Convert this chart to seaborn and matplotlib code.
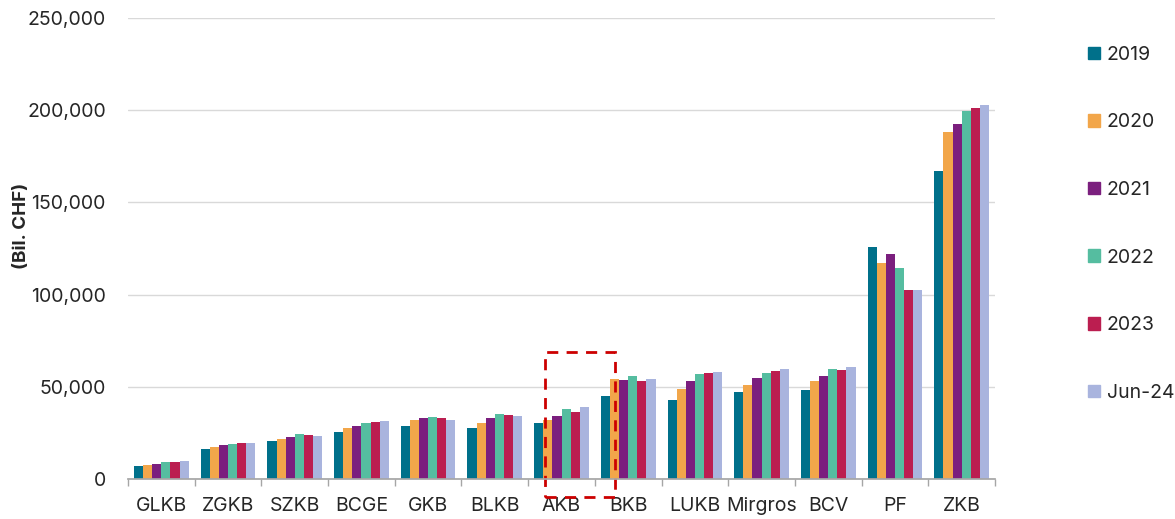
import numpy as np
import pandas as pd
import matplotlib
matplotlib.use("Agg")
import matplotlib.pyplot as plt
import matplotlib.patches as mpatches
import seaborn as sns

banks = ["GLKB", "ZGKB", "SZKB", "BCGE", "GKB", "BLKB", "AKB", "BKB",
         "LUKB", "Mirgros", "BCV", "PF", "ZKB"]
periods = ["2019", "2020", "2021", "2022", "2023", "Jun-24"]

v2019 = [7200, 16100, 20600, 25500, 28900, 27700, 30500, 44900, 42700, 47300, 48500, 125600, 167200]
v2020 = [7600, 17400, 21900, 27800, 31800, 30200, 31900, 54500, 48900, 50900, 53400, 117300, 188400]
v2021 = [8100, 18600, 22600, 28700, 33100, 33100, 34400, 53600, 52900, 54700, 56100, 121800, 192300]
v2022 = [9100, 19000, 24200, 30500, 33600, 35200, 38200, 55600, 57000, 57400, 59400, 114600, 199600]
v2023 = [9200, 19400, 23700, 30700, 33100, 34700, 36200, 52900, 57600, 58800, 59000, 102300, 201000]
vjun24 = [9800, 19500, 23100, 31600, 32200, 34200, 39200, 54000, 58100, 59500, 60800, 102300, 202700]

colors = ["#00708A", "#F2A64A", "#7B1F7E", "#55BDA0", "#BB1E50", "#A9B4DE"]

df = pd.DataFrame({"bank": banks, "2019": v2019, "2020": v2020, "2021": v2021,
                   "2022": v2022, "2023": v2023, "Jun-24": vjun24})
long = df.melt(id_vars="bank", var_name="period", value_name="value")

sns.set_theme(style="white")
plt.rcParams["font.family"] = ["Inter", "DejaVu Sans"]

fig = plt.figure(figsize=(11.75, 5.19), dpi=100)
ax = fig.add_axes([128 / 1175, 1 - 479 / 519, 867 / 1175, 461 / 519])

sns.barplot(data=long, x="bank", y="value", hue="period", order=banks,
            hue_order=periods, palette=colors, width=0.82, gap=0,
            saturation=1, linewidth=0, ax=ax, legend=False)

ax.set_ylim(0, 250000)
ax.set_xlim(-0.5, len(banks) - 0.5)
ax.set_yticks(np.arange(0, 250001, 50000))
ax.set_yticklabels([f"{int(t):,}" for t in np.arange(0, 250001, 50000)], fontsize=14)
ax.yaxis.grid(True, color="#D9D9D9", lw=1)
ax.set_axisbelow(True)
ax.tick_params(axis="y", length=0, pad=16)

ax.set_xticks(range(len(banks)))
ax.set_xticklabels(banks, fontsize=14)
ax.set_xticks(np.arange(-0.5, len(banks)), minor=True)
ax.tick_params(axis="x", which="major", length=0, pad=13)
ax.tick_params(axis="x", which="minor", length=5, color="#A6A6A6", bottom=True)

for s in ["top", "right", "left"]:
    ax.spines[s].set_visible(False)
ax.spines["bottom"].set_color("#A6A6A6")

ax.set_xlabel("")
ax.set_ylabel("(Bil. CHF)", fontsize=13.5, fontweight="bold")
ax.yaxis.set_label_coords(-0.113, 0.55)

# highlight box
rect = mpatches.Rectangle((5.75, -9900), 1.05, 78800, fill=False,
                          edgecolor="#CC0000", lw=2, ls=(0, (4, 3)),
                          clip_on=False, transform=ax.transData)
ax.add_patch(rect)

handles = [mpatches.Patch(color=c, label=p) for c, p in zip(colors, periods)]
fig.legend(handles=handles, loc="upper left", bbox_to_anchor=(1080 / 1175, 1 - 38 / 519),
           frameon=False, fontsize=14, handlelength=0.62, handleheight=0.62,
           handletextpad=0.35, labelspacing=2.55, borderaxespad=0)

fig.savefig("out.png", dpi=100)
